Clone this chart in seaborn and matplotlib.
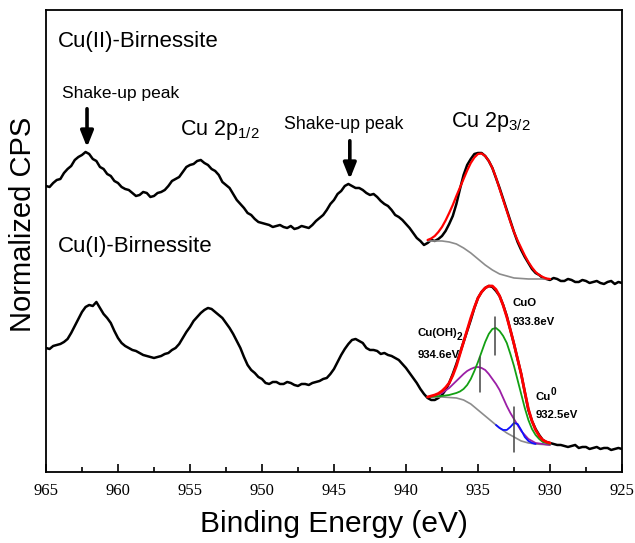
import matplotlib
matplotlib.use("Agg")
import matplotlib.pyplot as plt
import numpy as np
import seaborn as sns

# energy grid for the measured spectra (eV), read every 0.25 eV
energy = np.linspace(965.0, 925.0, 161)

cu2_counts = [
    286, 285, 289, 292, 293, 299, 303, 306, 312, 315,
    317, 320, 318, 313, 311, 305, 303, 298, 296, 291,
    289, 285, 283, 282, 279, 276, 277, 280, 279, 275,
    276, 279, 280, 282, 286, 291, 293, 295, 300, 305,
    307, 308, 311, 312, 309, 307, 303, 301, 297, 290,
    287, 284, 278, 272, 268, 264, 259, 257, 253, 250,
    249, 248, 247, 245, 246, 247, 245, 244, 246, 243,
    244, 246, 245, 244, 247, 251, 254, 257, 262, 268,
    272, 278, 281, 286, 288, 286, 284, 284, 282, 279,
    277, 278, 275, 271, 268, 266, 262, 257, 255, 252,
    248, 244, 239, 234, 231, 227, 229, 232, 231, 233,
    236, 241, 248, 256, 268, 283, 297, 307, 313, 318,
    319, 319, 316, 311, 304, 294, 284, 273, 262, 251,
    240, 230, 222, 215, 209, 203, 199, 197, 194, 193,
    192, 194, 193, 191, 191, 193, 192, 190, 190, 192,
    191, 189, 190, 191, 189, 188, 190, 191, 188, 190,
    189,
]

cu1_counts = [
    124, 123, 126, 127, 128, 130, 133, 139, 146, 153,
    160, 165, 167, 166, 170, 164, 158, 154, 149, 141,
    134, 129, 126, 124, 122, 121, 119, 117, 116, 115,
    114, 115, 116, 118, 119, 122, 124, 128, 134, 140,
    145, 151, 155, 159, 162, 164, 163, 160, 157, 154,
    149, 144, 138, 131, 124, 115, 107, 102, 99, 95,
    93, 89, 88, 90, 90, 88, 88, 90, 89, 87,
    86, 88, 88, 87, 89, 90, 91, 93, 94, 98,
    103, 110, 117, 123, 128, 132, 133, 131, 129, 124,
    122, 122, 121, 118, 119, 117, 116, 114, 112, 108,
    104, 99, 94, 89, 83, 78, 74, 72, 72, 74,
    77, 82, 89, 98, 108, 119, 130, 141, 152, 164,
    174, 180, 184, 186, 185, 181, 176, 167, 156, 142,
    128, 113, 98, 80, 62, 51, 43, 37, 32, 30,
    29, 28, 27, 27, 26, 25, 26, 27, 24, 25,
    25, 23, 24, 25, 23, 24, 24, 22, 23, 24,
    23,
]

# fitted region (eV)
fit_energy = np.linspace(938.5, 930.0, 35)
bg_energy = np.linspace(938.5, 930.0, 18)

cu2_fit = [232, 233.5, 236, 240, 245, 251.5, 259, 267, 276, 284.5,
           293, 301.5, 309, 314.5, 318, 318.5, 316, 311, 304, 294.5,
           283, 272, 261, 250, 240, 231.5, 224, 216.5, 210, 204.5,
           200, 197, 195, 193.5, 193]
cu2_bg = [231, 231, 231, 230, 228, 224, 219, 213, 207, 202,
          198, 196, 194, 193.5, 193, 193, 193, 193]

cu1_fit = [75, 76, 77, 78.5, 81, 84.5, 89, 96.5, 106, 118,
           130, 142, 154, 164.5, 174, 180, 184, 186, 186, 182.5,
           176, 166.5, 155, 142, 128, 113, 98, 80, 63, 51,
           42, 36, 32, 30, 29]
cu1_bg = [75, 75, 75, 74.5, 74, 72, 68, 62, 56, 50,
          44, 39, 35, 31, 29, 28, 27.5, 27]
cuo_comp = [75, 75.2, 75.5, 75.8, 76, 76.5, 77, 78, 79, 80.5,
            83, 87, 93, 101, 110, 120, 130, 138, 143, 144,
            141, 136, 129, 118, 106, 92, 78, 64, 52, 43,
            37, 33, 30, 29, 28]
cuoh2_comp = [75, 75.5, 76, 77.5, 79, 81.5, 84, 87.5, 91, 94.5,
              98, 101, 103, 104.5, 105, 104, 102, 98, 93, 88,
              82, 74, 66, 59, 53, 47, 41, 37, 33, 31,
              29, 28.5, 28, 27.5, 27]

cu0_energy = [933.75, 933.5, 933.25, 933.0, 932.75, 932.5, 932.25,
              932.0, 931.75, 931.5, 931.25, 931.0]
cu0_comp = [47, 44, 42, 42, 45, 49, 48, 42, 35, 31, 29, 28]

# component positions: (energy, lower, upper)
markers = [(933.82, 117, 155), (934.86, 80, 115), (932.5, 20, 65)]

sns.set_style("ticks")
plt.rcParams["font.family"] = ["Liberation Sans", "DejaVu Sans"]
plt.rcParams["text.color"] = "black"
plt.rcParams["axes.labelcolor"] = "black"
plt.rcParams["xtick.color"] = "black"
plt.rcParams["axes.edgecolor"] = "black"

fig = plt.figure(figsize=(6.35, 5.43), dpi=100)
ax = fig.add_axes([0.0724, 0.1308, 0.9071, 0.8508])

line = dict(ax=ax, sort=False, estimator=None)
sns.lineplot(x=energy, y=cu2_counts, color="black", lw=1.8, **line)
sns.lineplot(x=energy, y=cu1_counts, color="black", lw=1.8, **line)

sns.lineplot(x=bg_energy, y=cu2_bg, color="#8c8c8c", lw=1.2, **line)
sns.lineplot(x=fit_energy, y=cu2_fit, color="#ff0000", lw=1.6, **line)

sns.lineplot(x=bg_energy, y=cu1_bg, color="#8c8c8c", lw=1.2, **line)
sns.lineplot(x=fit_energy, y=cuoh2_comp, color="#9b1fa6", lw=1.3, **line)
sns.lineplot(x=fit_energy, y=cuo_comp, color="#13a013", lw=1.3, **line)
sns.lineplot(x=cu0_energy, y=cu0_comp, color="#1010ff", lw=1.3, **line)
sns.lineplot(x=fit_energy, y=cu1_fit, color="#ff0000", lw=2.0, **line)

for e, lo, hi in markers:
    ax.plot([e, e], [lo, hi], color="#444444", lw=1.1)

ax.set_xlim(965, 925)
ax.set_ylim(0, 462)
ax.set_yticks([])
ax.set_xticks(np.arange(965, 924, -5))
ax.set_xticks(np.arange(962.5, 925, -5), minor=True)
ax.tick_params(axis="x", which="major", direction="in", length=6, width=1.2, pad=8)
ax.tick_params(axis="x", which="minor", direction="in", length=3.5, width=1.2)
for lab in ax.get_xticklabels():
    lab.set_fontfamily("Liberation Serif")
    lab.set_fontsize(12)
for sp in ax.spines.values():
    sp.set_linewidth(1.3)

ax.set_xlabel("Binding Energy (eV)", fontsize=21.5, labelpad=8)
ax.set_ylabel("Normalized CPS", fontsize=21)
ax.yaxis.set_label_coords(-0.015, 0.537)

ax.text(964.2, 430, "Cu(II)-Birnessite", fontsize=16, va="center")
ax.text(964.2, 225, "Cu(I)-Birnessite", fontsize=16, va="center")
ax.text(963.9, 378, "Shake-up peak", fontsize=12.5, va="center")
ax.text(948.5, 347, "Shake-up peak", fontsize=12.8, va="center")
ax.text(955.7, 342, r"Cu 2p$_{\mathregular{1/2}}$", fontsize=15.5, va="center")
ax.text(936.9, 350, r"Cu 2p$_{\mathregular{3/2}}$", fontsize=15.5, va="center")

arrow = dict(arrowstyle="-|>,head_width=0.38,head_length=0.95", lw=2.6, color="black")
ax.annotate("", xy=(962.15, 322), xytext=(962.15, 366), arrowprops=arrow)
ax.annotate("", xy=(943.9, 290), xytext=(943.9, 334), arrowprops=arrow)

small = dict(fontsize=8.2, fontweight="bold", va="center")
tiny = dict(fontsize=7.2, fontweight="bold", va="center")
ax.text(932.6, 169, "CuO", **small)
ax.text(932.6, 150, "933.8eV", **small)
ax.text(939.2, 139, "Cu(OH)", **small)
ax.text(936.45, 135, "2", **tiny)
ax.text(939.2, 117, "934.6eV", **small)
ax.text(931.0, 75, "Cu", **small)
ax.text(929.95, 80, "0", **tiny)
ax.text(931.0, 57, "932.5eV", **small)

fig.savefig("out.png", dpi=100)
